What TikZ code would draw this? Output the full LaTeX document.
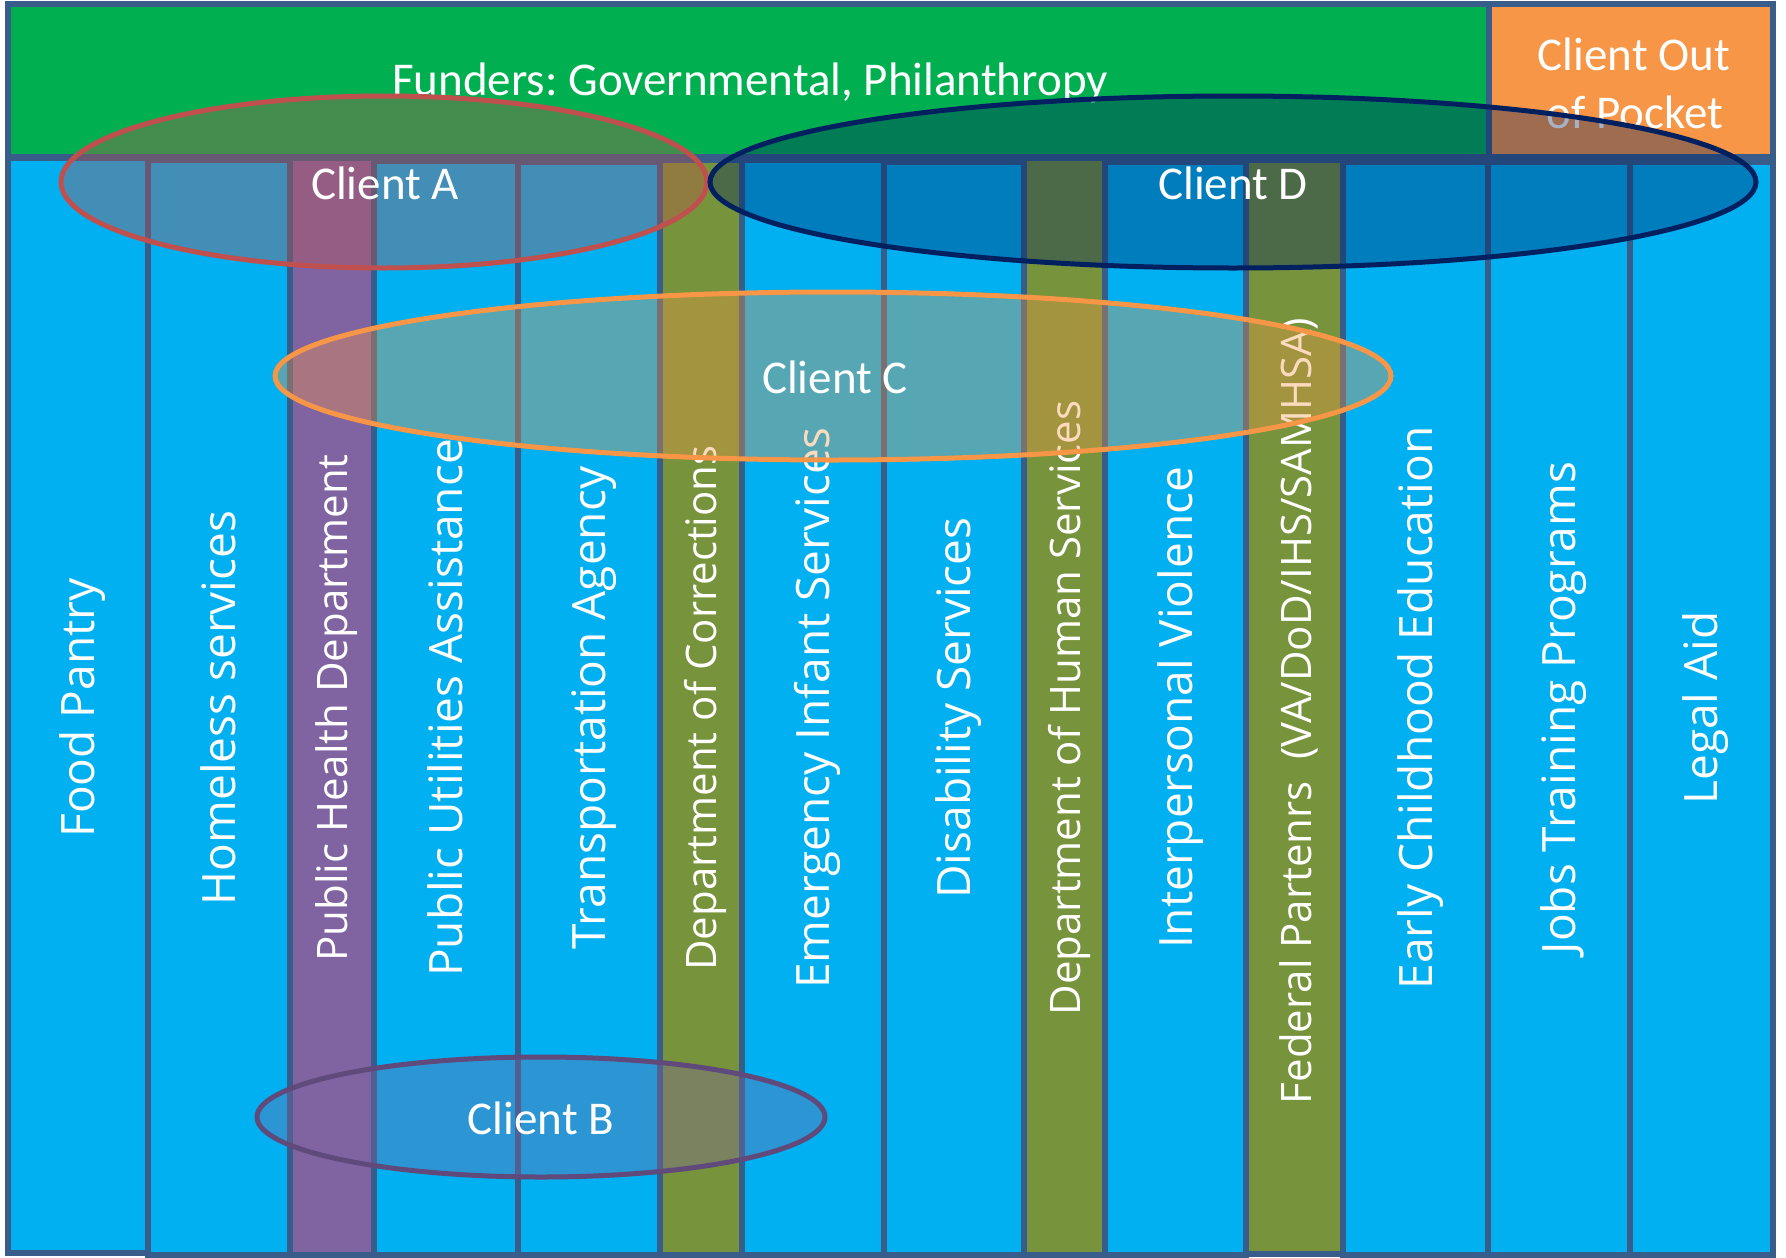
\documentclass[tikz,border=0pt]{standalone}
\usepackage{fontspec}
\setmainfont{Open Sans}
\newfontfamily\calfont{Carlito}
\frenchspacing
\definecolor{bandgreen}{HTML}{00B050}
\definecolor{bandorange}{HTML}{F79646}
\definecolor{colblue}{HTML}{00B0F0}
\definecolor{colpurple}{HTML}{8064A2}
\definecolor{cololive}{HTML}{77933C}
\definecolor{edgecol}{HTML}{385D8A}
\definecolor{ellred}{HTML}{C0504D}
\definecolor{ellnavy}{HTML}{002060}
\definecolor{ellorange}{HTML}{F79646}
\definecolor{ellpurple}{HTML}{8064A2}
\definecolor{ellpurpleline}{HTML}{604A7B}
\begin{document}
\begin{tikzpicture}[x=1pt,y=-1pt,
  box/.style={draw=edgecol,line width=6},
  collabel/.style={text=white,rotate=90,anchor=base,inner sep=0pt,
    font=\fontsize{46}{52}\selectfont},
  narrowlabel/.style={collabel,font=\fontsize{42}{48}\selectfont},
  cltext/.style={text=white,anchor=base,inner sep=0pt,
    font=\calfont\fontsize{47}{56}\selectfont},
  clell/.style={line width=5,fill opacity=0.35}
]
\useasboundingbox (0,0) rectangle (1786,1258);
\fill[white] (0,0) rectangle (1786,1258);
% top band
\draw[box,fill=bandgreen] (8,4) rectangle (1489,157);
\draw[box,fill=bandorange] (1489,4) rectangle (1773,157);
\node[cltext] (funders) at (750,95) {Funders: Governmental, Philanthropy};
\node[cltext] (pocket1) at (1634,70) {Client Out};
\node[cltext] (pocket2) at (1635,128) {of Pocket};
% columns
\draw[box,fill=colblue]   (8,158)    rectangle (148,1253);
\draw[box,fill=colblue]   (148,160)  rectangle (290,1255);
\draw[box,fill=colpurple] (290,158)  rectangle (374,1255);
\draw[box,fill=colblue]   (374,161)  rectangle (518,1255);
\draw[box,fill=colblue]   (518,162)  rectangle (660,1255);
\draw[box,fill=cololive]  (660,160)  rectangle (742,1255);
\draw[box,fill=colblue]   (742,160)  rectangle (884,1255);
\draw[box,fill=colblue]   (884,162)  rectangle (1024,1255);
\draw[box,fill=cololive]  (1024,158) rectangle (1105,1255);
\draw[box,fill=colblue]   (1105,162) rectangle (1246,1255);
\draw[box,fill=cololive]  (1246,160) rectangle (1343,1254);
\draw[box,fill=colblue]   (1343,162) rectangle (1488,1255);
\draw[box,fill=colblue]   (1488,162) rectangle (1630,1255);
\draw[box,fill=colblue]   (1630,162) rectangle (1773,1255);
% column labels
\node[collabel] (l1)  at (94.5,708)   {Food Pantry};
\node[collabel] (l2)  at (235.5,708)  {Homeless services};
\node[narrowlabel] (l3)  at (347,708)  {Public Health Department};
\node[collabel] (l4)  at (462.5,708)  {Public Utilities Assistance};
\node[collabel] (l5)  at (605.5,708)  {Transportation Agency};
\node[narrowlabel] (l6)  at (716,708)  {Department of Corrections};
\node[collabel] (l7)  at (829.5,708)  {Emergency Infant Services};
\node[collabel] (l8)  at (970.5,708)  {Disability Services};
\node[narrowlabel] (l9)  at (1080,708) {Department of Human Services};
\node[collabel] (l10) at (1192.5,708) {Interpersonal Violence};
\node[narrowlabel] (l11) at (1311,711) {Federal Partenrs\ \ (VA/DoD/IHS/SAMHSA)};
\node[collabel] (l12) at (1432.5,708) {Early Childhood Education};
\node[collabel] (l13) at (1575.5,708) {Jobs Training Programs};
\node[collabel] (l14) at (1717.5,708) {Legal Aid};
% client ellipses
\draw[clell,draw=ellred,fill=ellred] (384,182) ellipse [x radius=323,y radius=86];
\draw[clell,draw=ellnavy,fill=ellnavy] (1233,182) ellipse [x radius=523,y radius=86];
\draw[clell,draw=ellorange,fill=ellorange] (833,376) ellipse [x radius=558,y radius=84];
\draw[clell,draw=ellpurpleline,fill=ellpurple] (541,1117) ellipse [x radius=284,y radius=60];
% client labels
\node[cltext] (ca) at (385,199)  {Client A};
\node[cltext] (cd) at (1233,199) {Client D};
\node[cltext] (cc) at (835,393)  {Client C};
\node[cltext] (cb) at (541,1134) {Client B};
\end{tikzpicture}
\end{document}
